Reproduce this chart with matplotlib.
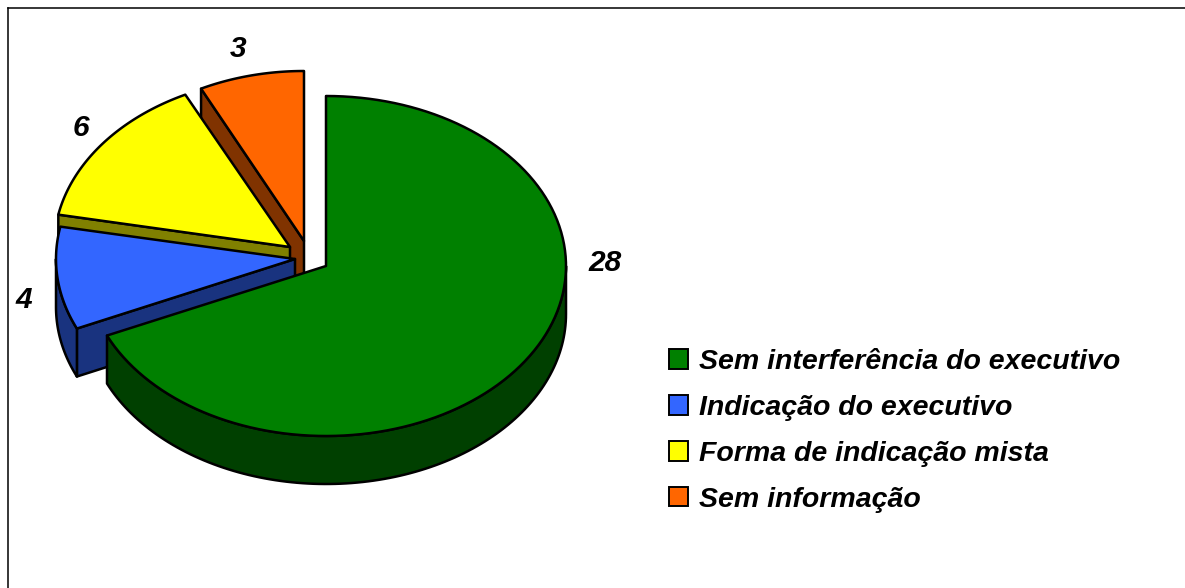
import numpy as np
import matplotlib
matplotlib.use("Agg")
import matplotlib.pyplot as plt
from matplotlib.patches import Polygon, Patch

categories = ["Sem interferência do executivo", "Indicação do executivo",
              "Forma de indicação mista", "Sem informação"]
values = [28, 4, 6, 3]

top_colors = ["#008000", "#3366FF", "#FFFF00", "#FF6600"]
side_colors = ["#004000", "#19337F", "#808000", "#803300"]
apex = [(326, 266), (295, 259), (290, 247), (304, 241)]
radii_x = [240, 239, 236, 232]
label_pos = [(605, 263), (24, 300), (81, 128), (238, 49)]
RY, DEPTH = 170, 48
FS = 20.5
LABEL_FS = 21.5
LW = 1.8

fig = plt.figure(figsize=(11.85, 5.88), dpi=100)
ax = fig.add_axes([8 / 1185, 0, 1 - 8 / 1185, 1 - 8 / 588])
ax.set_xlim(8, 1185)
ax.set_ylim(588, 8)
ax.set_xticks([])
ax.set_yticks([])
for s in ("right", "bottom"):
    ax.spines[s].set_visible(False)
for s in ("left", "top"):
    ax.spines[s].set_linewidth(1.1)

font = dict(family="Liberation Sans", weight="bold", style="italic")


def arc(c, rx, a0, a1, dy=0, n=120):
    t = np.radians(np.linspace(a0, a1, n))
    return np.column_stack([c[0] + rx * np.cos(t), c[1] - RY * np.sin(t) + dy])


def poly(pts, fc, z):
    ax.add_patch(Polygon(pts, closed=True, facecolor=fc, edgecolor="black",
                         linewidth=LW, joinstyle="round", zorder=z))


# slice angles, clockwise from 12 o'clock
edges = 90 - np.concatenate([[0], np.cumsum(values)]) / np.sum(values) * 360

# paint from the back slice to the front slice
for z, i in enumerate([3, 2, 1, 0]):
    start, end = edges[i], edges[i + 1]
    c = np.array(apex[i], float)
    rx = radii_x[i]
    base = z * 10 + 2
    # cut face on the leading edge, which faces the viewer
    tip = arc(c, rx, start, start, n=1)[0]
    poly([tip, c, c + (0, DEPTH), tip + (0, DEPTH)], side_colors[i], base)
    # outer rim: only the part facing the viewer (angles in 180..360)
    lo = max(end, -180)
    hi = min(start, 0)
    if hi > lo:
        upper = arc(c, rx, lo, hi)
        lower = arc(c, rx, hi, lo, dy=DEPTH)
        poly(np.vstack([upper, lower]), side_colors[i], base + 1)
    # top face
    poly(np.vstack([[c], arc(c, rx, start, end)]), top_colors[i], base + 2)
    ax.text(*label_pos[i], str(values[i]), ha="center", va="center",
            fontsize=LABEL_FS, zorder=100, **font)

handles = [Patch(facecolor=col, edgecolor="black", linewidth=1.4) for col in top_colors]
ax.legend(handles, categories, loc="upper left",
          bbox_to_anchor=(669, 349), bbox_transform=ax.transData,
          frameon=False, borderpad=0, borderaxespad=0,
          handlelength=0.667, handleheight=0.667, handletextpad=0.39,
          labelspacing=0.70,
          prop=dict(family="Liberation Sans", weight="bold", style="italic", size=FS))

fig.savefig("out.png", dpi=100)
